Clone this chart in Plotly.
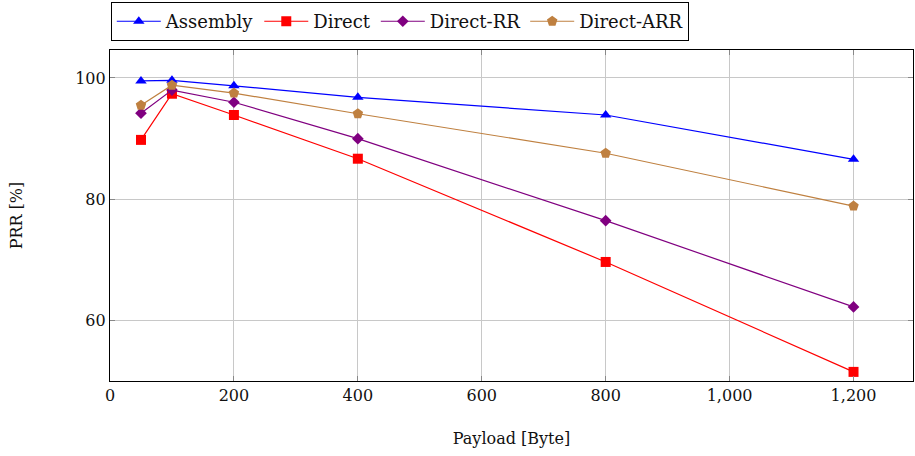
import plotly.graph_objects as go

# Payload sizes in bytes
payload = [50, 100, 200, 400, 800, 1200]

# Packet reception ratio (%) per scheme
prr_assembly = [99.5, 99.6, 98.7, 96.8, 93.9, 86.6]
prr_direct = [89.8, 97.4, 93.9, 86.7, 69.7, 51.6]
prr_direct_rr = [94.2, 98.0, 96.0, 90.0, 76.5, 62.3]
prr_direct_arr = [95.5, 98.8, 97.5, 94.1, 87.6, 78.9]

x_ticks = [0, 200, 400, 600, 800, 1000, 1200]
y_ticks = [60, 80, 100]

series = [
    ("Assembly", prr_assembly, "#0000ff", "triangle-up", 10),
    ("Direct", prr_direct, "#ff0000", "square", 10),
    ("Direct-RR", prr_direct_rr, "#800080", "diamond", 9),
    ("Direct-ARR", prr_direct_arr, "#bf8040", "pentagon", 11),
]

font_family = "DejaVu Serif"
text_color = "#111111"

fig = go.Figure()
for name, values, color, symbol, size in series:
    fig.add_trace(go.Scatter(
        x=payload, y=values, name=name, mode="lines+markers",
        line=dict(color=color, width=1.2),
        marker=dict(symbol=symbol, size=size, color=color, line=dict(width=0)),
    ))

axis_common = dict(
    showline=True, linecolor="black", linewidth=1.2, mirror="allticks",
    ticks="inside", ticklen=5, tickcolor="#888888", tickwidth=1,
    showgrid=True, gridcolor="#c8c8c8", gridwidth=1, zeroline=False,
    tickfont=dict(family=font_family, size=16, color=text_color),
)

fig.update_xaxes(
    range=[0, 1296], tickvals=x_ticks,
    ticktext=[f"{v:,}" for v in x_ticks],
    title=dict(text="Payload [Byte]", standoff=28,
               font=dict(family=font_family, size=16, color=text_color)),
    **axis_common,
)
fig.update_yaxes(
    range=[50.1, 104.6], tickvals=y_ticks,
    title=dict(text="PRR [%]", standoff=48,
               font=dict(family=font_family, size=16, color=text_color)),
    **axis_common,
)

fig.update_layout(
    width=915, height=456,
    margin=dict(l=110, r=2, t=47, b=75),
    paper_bgcolor="white", plot_bgcolor="white",
    font=dict(family=font_family, size=16, color=text_color),
    showlegend=True,
    legend=dict(
        orientation="h", x=0.001, xanchor="left", y=1.027, yanchor="bottom",
        bordercolor="black", borderwidth=1, bgcolor="white",
        font=dict(family=font_family, size=18, color=text_color),
        itemwidth=44, tracegroupgap=0,
    ),
)

fig.write_html("out.html")
